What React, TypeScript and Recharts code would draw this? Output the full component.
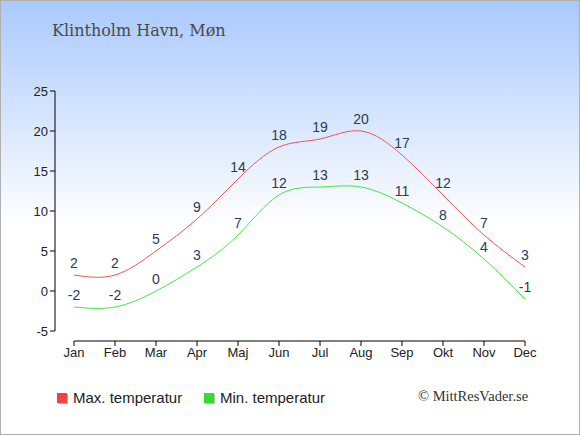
import { CartesianGrid, LabelList, Line, LineChart, XAxis, YAxis } from "recharts"

const months = ["Jan", "Feb", "Mar", "Apr", "Maj", "Jun", "Jul", "Aug", "Sep", "Okt", "Nov", "Dec"]
const maxTemp = [2, 2, 5, 9, 14, 18, 19, 20, 17, 12, 7, 3]
const minTemp = [-2, -2, 0, 3, 7, 12, 13, 13, 11, 8, 4, -1]
const yTicks = [-5, 0, 5, 10, 15, 20, 25]

const data = months.map((m, i) => ({ month: m, max: maxTemp[i], min: minTemp[i] }))

const sans = "'Liberation Sans', Arial, sans-serif"

function Swatch({ color }: { color: string }) {
  return (
    <span
      style={{
        display: "inline-block",
        width: 10,
        height: 10,
        background: color,
        boxShadow: "1px 1px 0 #bbb",
        marginRight: 6,
      }}
    />
  )
}

export default function App() {
  return (
    <div
      style={{
        position: "relative",
        width: 578,
        height: 433,
        border: "1px solid #b0b0b0",
        background: "linear-gradient(to bottom, #a9c9fd 0%, #ffffff 52%, #ffffff 100%)",
        overflow: "hidden",
      }}
    >
      <style>{"body{margin:0}"}</style>
      <div
        style={{
          position: "absolute",
          left: 51,
          top: 20,
          fontFamily: "'DejaVu Serif', serif",
          fontSize: 16,
          color: "#4a4a4a",
        }}
      >
        Klintholm Havn, Møn
      </div>
      <div style={{ position: "absolute", left: -1, top: -1 }}>
        <LineChart width={580} height={435} data={data} margin={{ top: 91, right: 55, bottom: 64, left: 0 }}>
          <CartesianGrid stroke="none" />
          <XAxis
            dataKey="month"
            padding={{ left: 19, right: 0 }}
            axisLine={{ stroke: "#000", strokeDasharray: "0 19 460" }}
            tickLine={{ stroke: "#000" }}
            tickSize={5}
            tick={{ fill: "#222", fontSize: 13, fontFamily: sans }}
            interval={0}
            height={30}
          />
          <YAxis
            domain={[-6.25, 25]}
            ticks={yTicks}
            axisLine={{ stroke: "#000", strokeDasharray: "240 20" }}
            tickLine={{ stroke: "#000" }}
            tickSize={5}
            tick={{ fill: "#222", fontSize: 13, fontFamily: sans }}
            width={55}
            allowDataOverflow
          />
          <Line
            type="natural"
            dataKey="max"
            stroke="#f05555"
            strokeWidth={1}
            dot={false}
            isAnimationActive={false}
          >
            <LabelList dataKey="max" position="top" offset={7} fill="#2a3a5a" fontSize={14} fontFamily={sans} />
          </Line>
          <Line
            type="natural"
            dataKey="min"
            stroke="#44e644"
            strokeWidth={1}
            dot={false}
            isAnimationActive={false}
          >
            <LabelList dataKey="min" position="top" offset={7} fill="#2a3a5a" fontSize={14} fontFamily={sans} />
          </Line>
        </LineChart>
      </div>
      <div
        style={{
          position: "absolute",
          left: 56,
          top: 388,
          fontFamily: sans,
          fontSize: 15,
          color: "#222",
          display: "flex",
          alignItems: "center",
        }}
      >
        <Swatch color="#ee4444" />
        <span>Max. temperatur</span>
      </div>
      <div
        style={{
          position: "absolute",
          left: 203,
          top: 388,
          fontFamily: sans,
          fontSize: 15,
          color: "#222",
          display: "flex",
          alignItems: "center",
        }}
      >
        <Swatch color="#33dd33" />
        <span>Min. temperatur</span>
      </div>
      <div
        style={{
          position: "absolute",
          left: 417,
          top: 387,
          fontFamily: "'Liberation Serif', 'Times New Roman', serif",
          fontSize: 14.5,
          color: "#333",
        }}
      >
        © MittResVader.se
      </div>
    </div>
  )
}
